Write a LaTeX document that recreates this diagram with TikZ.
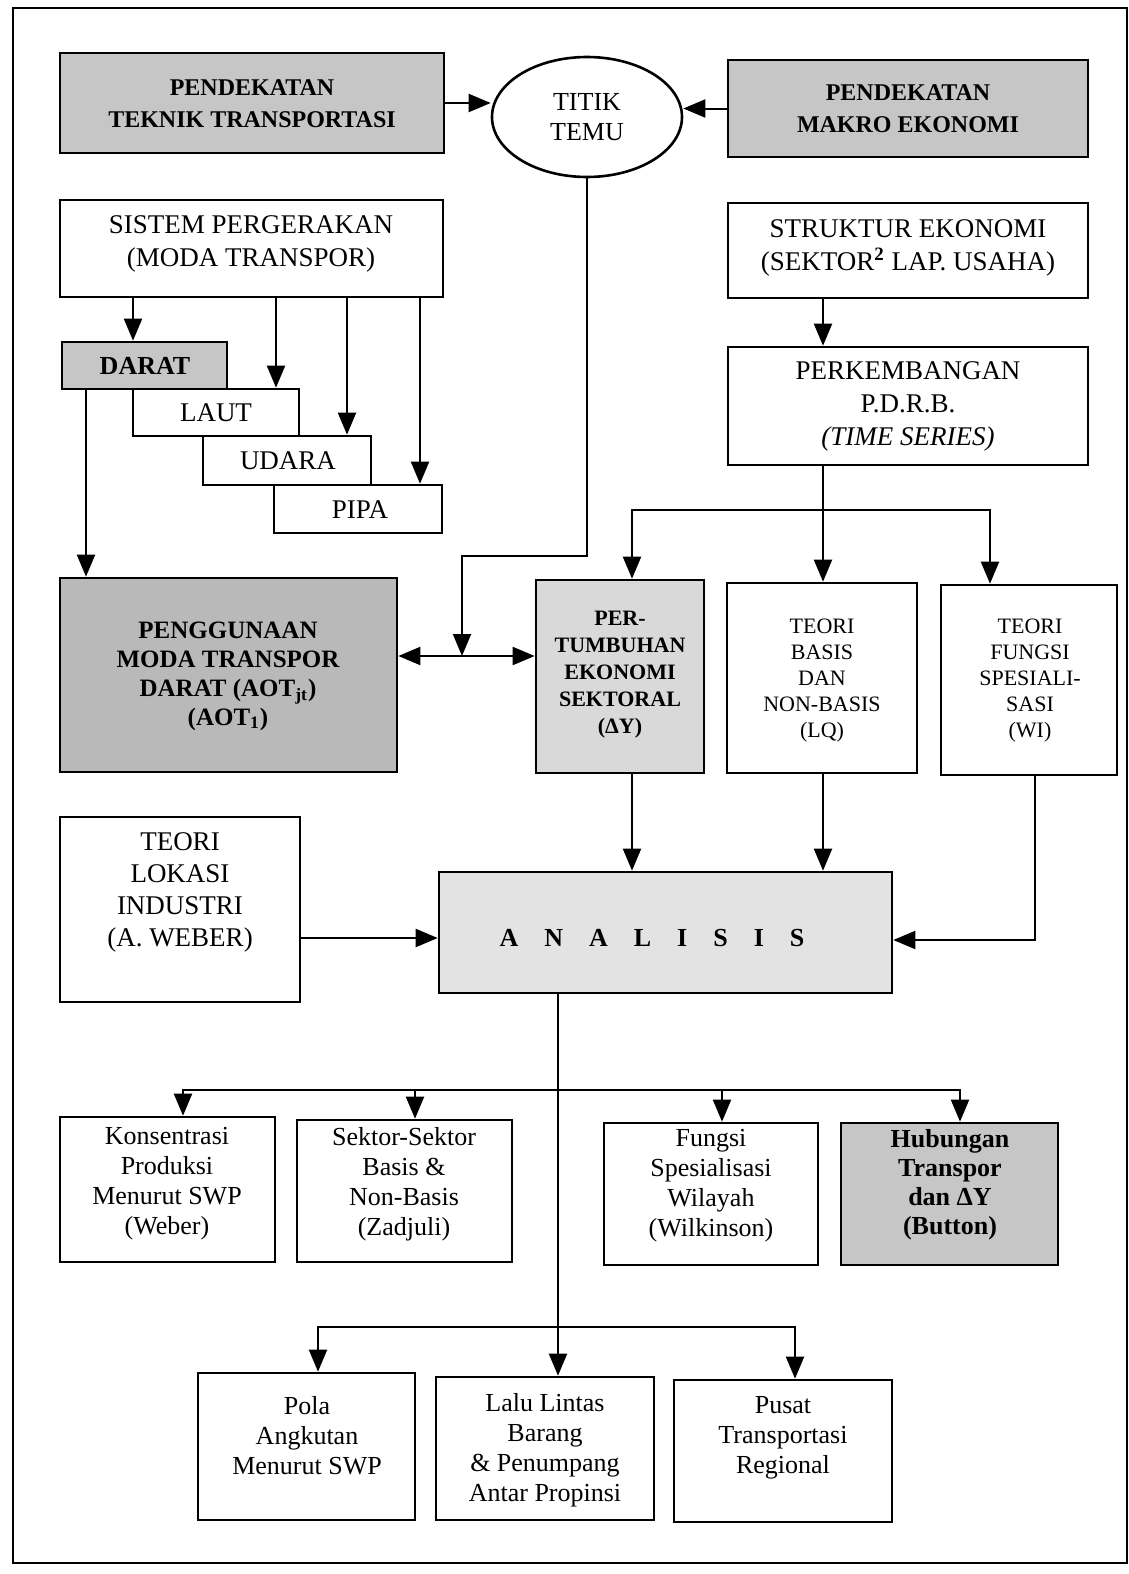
\documentclass[tikz,border=0pt]{standalone}
\usepackage{fontspec}
\setmainfont{Liberation Serif}
\usetikzlibrary{arrows.meta,fit,shapes.geometric}
\begin{document}
\begin{tikzpicture}[x=0.5pt,y=-0.5pt,
  bx/.style={draw, line width=1.3pt, inner sep=0pt, fill=white},
  gbx/.style={bx, fill=gray!45},
  txt/.style={align=center, inner sep=0pt, font=\fontsize{13.5}{16.5}\selectfont},
  btxt/.style={align=center, inner sep=0pt, font=\bfseries\fontsize{12}{16}\selectfont},
  ltxt/.style={align=center, inner sep=0pt, font=\fontsize{13}{15}\selectfont},
  stxt/.style={align=center, inner sep=0pt, font=\fontsize{11}{13}\selectfont},
  arr/.style={line width=1pt, -{Triangle[length=11pt,width=9pt]}},
  dbl/.style={line width=1pt, {Triangle[length=11pt,width=9pt]}-{Triangle[length=11pt,width=9pt]}},
]
\useasboundingbox (0,0) rectangle (1129,1574);
\draw[line width=1pt] (13,8) rectangle (1127,1563);

% top row
\node[gbx, fit={(60,53) (444,153)}] (tek) {};
\node[btxt] (tekT) at (252,104) {PENDEKATAN\\TEKNIK TRANSPORTASI};
\node[draw, ellipse, line width=1.3pt, minimum width=95pt, minimum height=60pt, inner sep=0pt, txt,
      font=\fontsize{13}{15}\selectfont] (titik) at (587,117) {TITIK\\TEMU};
\node[gbx, fit={(728,60) (1088,157)}] (mak) {};
\node[btxt] (makT) at (908,109) {PENDEKATAN\\MAKRO EKONOMI};

% left column
\node[bx, fit={(60,200) (443,297)}] (sis) {};
\node[txt] (sisT) at (251,244) {SISTEM PERGERAKAN\\(MODA TRANSPOR)};
\node[gbx, fit={(62,342) (227,389)}] (darat) {};
\node[btxt, font=\bfseries\fontsize{13}{16}\selectfont] (daratT) at (145,366) {DARAT};
\node[bx, fit={(133,389) (299,436)}] (laut) {};
\node[txt] (lautT) at (216,413) {LAUT};
\node[bx, fit={(203,436) (371,485)}] (udara) {};
\node[txt] (udaraT) at (288,461) {UDARA};
\node[bx, fit={(274,485) (442,533)}] (pipa) {};
\node[txt] (pipaT) at (360,510) {PIPA};

% right column
\node[bx, fit={(728,203) (1088,298)}] (str) {};
\node[txt] (strT) at (908,248) {STRUKTUR EKONOMI\\(SEKTOR\textsuperscript{\textbf{2}} LAP. USAHA)};
\node[bx, fit={(728,347) (1088,465)}] (per) {};
\node[txt] (perT) at (908,406) {PERKEMBANGAN\\P.D.R.B.\\\textit{(TIME SERIES)}};

% middle row
\node[bx, fill=gray!55, fit={(60,578) (397,772)}] (peng) {};
\node[btxt, font=\bfseries\fontsize{12.5}{14.5}\selectfont] (pengT) at (228,676)
  {PENGGUNAAN\\MODA TRANSPOR\\DARAT (AOT\textsubscript{jt})\\(AOT\textsubscript{1})};
\node[bx, fill=gray!30, fit={(536,580) (704,773)}] (pert) {};
\node[btxt, font=\bfseries\fontsize{11}{13.5}\selectfont] (pertT) at (620,675)
  {PER-\\TUMBUHAN\\EKONOMI\\SEKTORAL\\(ΔY)};
\node[bx, fit={(727,583) (917,773)}] (basis) {};
\node[stxt] (basisT) at (822,681) {TEORI\\BASIS\\DAN\\NON-BASIS\\(LQ)};
\node[bx, fit={(941,585) (1117,775)}] (fun) {};
\node[stxt] (funT) at (1030,681) {TEORI\\FUNGSI\\SPESIALI-\\SASI\\(WI)};

% analysis row
\node[bx, fit={(60,817) (300,1002)}] (lok) {};
\node[txt, font=\fontsize{13.5}{16}\selectfont] (lokT) at (180,892) {TEORI\\LOKASI\\INDUSTRI\\(A. WEBER)};
\node[bx, fill=gray!22, fit={(439,872) (892,993)}] (anal) {};
\node[btxt, font=\bfseries\fontsize{13}{16}\selectfont] (analT) at (652,938)
  {A\hspace{1em}N\hspace{1em}A\hspace{1em}L\hspace{1em}I\hspace{1em}S\hspace{1em}I\hspace{1em}S};

% result row 1
\node[bx, fit={(60,1117) (275,1262)}] (kons) {};
\node[ltxt] (konsT) at (167,1184) {Konsentrasi\\Produksi\\Menurut SWP\\(Weber)};
\node[bx, fit={(297,1120) (512,1262)}] (sek) {};
\node[ltxt] (sekT) at (404,1184) {Sektor-Sektor\\Basis \&\\Non-Basis\\(Zadjuli)};
\node[bx, fit={(604,1123) (818,1265)}] (fws) {};
\node[ltxt] (fwsT) at (711,1186) {Fungsi\\Spesialisasi\\Wilayah\\(Wilkinson)};
\node[bx, fill=gray!45, fit={(841,1123) (1058,1265)}] (hub) {};
\node[ltxt, font=\bfseries\fontsize{13}{14.5}\selectfont] (hubT) at (950,1185) {Hubungan\\Transpor\\dan ΔY\\(Button)};

% result row 2
\node[bx, fit={(198,1373) (415,1520)}] (pola) {};
\node[ltxt] (polaT) at (307,1436) {Pola\\Angkutan\\Menurut SWP};
\node[bx, fit={(436,1377) (654,1520)}] (lalu) {};
\node[ltxt] (laluT) at (545,1450) {Lalu Lintas\\Barang\\\& Penumpang\\Antar Propinsi};
\node[bx, fit={(674,1380) (892,1522)}] (pusat) {};
\node[ltxt] (pusatT) at (783,1438) {Pusat\\Transportasi\\Regional};

% coordinates
\coordinate (tj) at (462,656);
\coordinate (br) at (823,510);
\coordinate (b1) at (558,1090);
\coordinate (b2) at (558,1327);

% connectors top
\draw[arr] (tek.east) -- (tek.east -| titik.west);
\draw[arr] (mak.west) -- (mak.west -| titik.east);
\draw[arr] (titik.south) -- ++(0,378) -| (tj);

\draw[arr] (sis.south -| 133,0) -- (darat.north -| 133,0);
\draw[arr] (sis.south -| 276,0) -- (laut.north -| 276,0);
\draw[arr] (sis.south -| 347,0) -- (udara.north -| 347,0);
\draw[arr] (sis.south -| 420,0) -- (pipa.north -| 420,0);
\draw[arr] (darat.south -| 86,0) -- (peng.north -| 86,0);

\draw[arr] (str.south -| 823,0) -- (per.north -| 823,0);
\draw[arr] (per.south -| 823,0) -- (basis.north -| 823,0);
\draw[arr] (br) -| (pert.north -| 632,0);
\draw[arr] (br) -| (fun.north -| 990,0);

\draw[dbl] (peng.east |- tj) -- (pert.west |- tj);

% connectors to analysis
\draw[arr] (pert.south -| 632,0) -- (anal.north -| 632,0);
\draw[arr] (basis.south -| 823,0) -- (anal.north -| 823,0);
\draw[arr] (fun.south -| 1035,0) |- (anal.east |- 0,940);
\draw[arr] (lok.east |- 0,938) -- (anal.west |- 0,938);

% connectors below analysis
\draw[arr] (anal.south -| b1) -- (lalu.north -| b1);
\draw[arr] (b1) -| (kons.north -| 183,0);
\draw[arr] (b1) -| (sek.north -| 415,0);
\draw[arr] (b1) -| (fws.north -| 722,0);
\draw[arr] (b1) -| (hub.north -| 960,0);
\draw[arr] (b2) -| (pola.north -| 318,0);
\draw[arr] (b2) -| (pusat.north -| 795,0);
\end{tikzpicture}
\end{document}
